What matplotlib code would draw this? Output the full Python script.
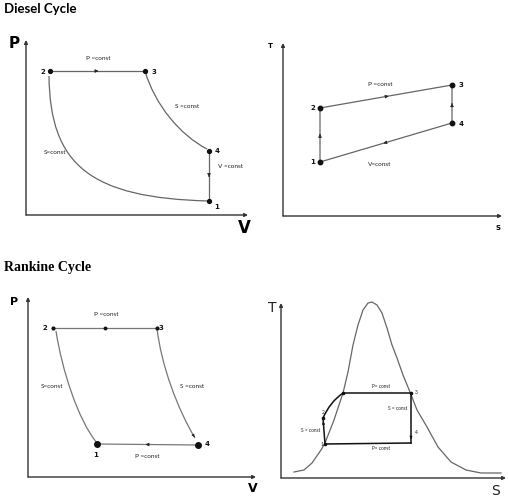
import matplotlib
matplotlib.use('Agg')
import matplotlib.pyplot as plt
from matplotlib.path import Path
from matplotlib.patches import PathPatch

# ---- diesel cycle, P-V (states 1..4) ----
dpv_v = [183, 24, 119, 183]
dpv_p = [14, 144, 144, 64]
dpv_curve21 = [(23, 139), (24, 50), (64, 17), (183, 14)]
dpv_curve34 = [(119, 144), (129, 110), (154, 80), (181, 66)]

# ---- diesel cycle, T-S ----
dts_s = [37, 37, 169, 169]
dts_t = [54, 108, 131, 93]

# ---- rankine cycle, P-V ----
rpv_v = [69, 25, 129, 170]
rpv_p = [33, 149, 149, 32]
rpv_curve21 = [(28, 146), (34, 107), (50, 57), (69, 34)]
rpv_curve34 = [(129, 149), (133, 112), (150, 67), (167, 39)]

# ---- rankine cycle, T-S (saturation dome + cycle) ----
dome_s = [13, 23, 31, 40, 44, 53, 62, 67, 72, 77, 82, 87, 91, 96, 101, 106,
          111, 116, 122, 129, 136, 146, 157, 170, 185, 200, 220]
dome_t = [6, 8, 15, 28, 35, 58, 85, 106, 133, 153, 168, 175, 176, 173, 165,
          150, 133, 120, 103, 86, 68, 51, 31, 16, 8, 5, 5]
rts_s = [44, 42, 62, 130, 130]   # 1, 2, sat. liquid, 3, 4
rts_t = [34, 60, 85, 85, 35]
rts_curve = [(42, 60), (49, 76), (62, 85)]

W, H = 508, 499
fig = plt.figure(figsize=(W / 100, H / 100), dpi=100)
fig.patch.set_facecolor('white')

small = dict(fontsize=4.6, family=['Lato', 'DejaVu Sans'], ha='center', va='center', color='#222')
num = dict(fontsize=5, fontweight='bold', ha='center', va='center', color='#111')


def make_axes(x0, y0, x1, ytop):
    ax = fig.add_axes([x0 / W, 1 - y0 / H, (x1 - x0) / W, (y0 - ytop) / H])
    ax.set_xlim(0, x1 - x0)
    ax.set_ylim(0, y0 - ytop)
    ax.axis('off')
    ap = dict(arrowstyle='-|>', color='#333', lw=1, mutation_scale=5, shrinkA=0, shrinkB=0)
    ax.annotate('', xy=(x1 - x0, 0), xytext=(0, 0), arrowprops=ap, annotation_clip=False)
    ax.annotate('', xy=(0, y0 - ytop), xytext=(0, 0), arrowprops=ap, annotation_clip=False)
    return ax


def mid_arrow(ax, p, q, color, frac=0.5, ms=5):
    x = p[0] + (q[0] - p[0]) * frac
    y = p[1] + (q[1] - p[1]) * frac
    dx = (q[0] - p[0]) * 0.02
    dy = (q[1] - p[1]) * 0.02
    ax.annotate('', xy=(x + dx, y + dy), xytext=(x, y),
                arrowprops=dict(arrowstyle='-|>', color=color, lw=0.5,
                                mutation_scale=ms, shrinkA=0, shrinkB=0))


def bezier(ax, pts, color, lw):
    codes = [Path.MOVETO] + [Path.CURVE4 if len(pts) == 4 else Path.CURVE3] * (len(pts) - 1)
    ax.add_patch(PathPatch(Path(pts, codes), fc='none', ec=color, lw=lw, clip_on=False))


# titles
fig.text(4 / W, 1 - 9 / H, 'Diesel Cycle', fontsize=9.5, fontweight='bold',
         family=['Lato', 'DejaVu Sans'], va='center', ha='left')
fig.text(4 / W, 1 - 267 / H, 'Rankine Cycle', fontsize=10, fontweight='bold',
         family=['Liberation Serif', 'DejaVu Serif'], va='center', ha='left')

# ---------------- Diesel P-V ----------------
c = '#666'
ax1 = make_axes(26, 215, 248, 40)
ax1.plot([dpv_v[1], dpv_v[2]], [dpv_p[1], dpv_p[2]], color=c, lw=0.9)
ax1.plot([dpv_v[3], dpv_v[0]], [dpv_p[3], dpv_p[0]], color=c, lw=0.9)
bezier(ax1, dpv_curve21, c, 0.9)
bezier(ax1, dpv_curve34, c, 0.9)
ax1.plot(dpv_v, dpv_p, 'o', color='#111', ms=2.8)
mid_arrow(ax1, (dpv_v[1], dpv_p[1]), (dpv_v[2], dpv_p[2]), '#222', 0.49)
mid_arrow(ax1, (dpv_v[3], dpv_p[3]), (dpv_v[0], dpv_p[0]), '#222', 0.5)
for lab, dx, dy, i in [('1', 8, -6, 0), ('2', -7, -1, 1), ('3', 9, -1, 2), ('4', 8, 0, 3)]:
    ax1.text(dpv_v[i] + dx, dpv_p[i] + dy, lab, **num)
ax1.text(72, 156, 'P =const', **small)
ax1.text(161, 108, 'S =const', **small)
ax1.text(29, 63, 'S=const', **small)
ax1.text(204, 48, 'V =const', **small)
ax1.text(-12, 172, 'P', fontsize=11, fontweight='bold', ha='center', va='center')
ax1.text(218, -13, 'V', fontsize=12, fontweight='bold', ha='center', va='center')

# ---------------- Diesel T-S ----------------
ax2 = make_axes(283, 216, 502, 43)
order = [0, 1, 2, 3, 0]
ax2.plot([dts_s[i] for i in order], [dts_t[i] for i in order], color=c, lw=0.9)
ax2.plot(dts_s, dts_t, 'o', color='#111', ms=3.2)
mid_arrow(ax2, (dts_s[1], dts_t[1]), (dts_s[2], dts_t[2]), '#222')
mid_arrow(ax2, (dts_s[3], dts_t[3]), (dts_s[0], dts_t[0]), '#222')
mid_arrow(ax2, (dts_s[0], dts_t[0]), (dts_s[1], dts_t[1]), '#222')
mid_arrow(ax2, (dts_s[3], dts_t[3]), (dts_s[2], dts_t[2]), '#222')
for lab, dx, dy, i in [('1', -7, 0, 0), ('2', -7, 0, 1), ('3', 9, 0, 2), ('4', 9, -1, 3)]:
    ax2.text(dts_s[i] + dx, dts_t[i] + dy, lab, **num)
ax2.text(97, 131, 'P =const', **small)
ax2.text(97, 51, 'V=const', **small)
ax2.text(-13, 170, 'T', fontsize=5, fontweight='bold', ha='center', va='center')
ax2.text(215, -12, 'S', fontsize=5, fontweight='bold', ha='center', va='center')

# ---------------- Rankine P-V ----------------
c3 = '#777'
ax3 = make_axes(28, 477, 256, 297)
ax3.plot([rpv_v[1], rpv_v[2]], [rpv_p[1], rpv_p[2]], color=c3, lw=0.9)
ax3.plot([rpv_v[3], rpv_v[0]], [rpv_p[3], rpv_p[0]], color=c3, lw=0.9)
bezier(ax3, rpv_curve21, c3, 0.9)
bezier(ax3, rpv_curve34, c3, 0.9)
ax3.plot(rpv_v[1:3], rpv_p[1:3], 'o', color='#111', ms=2)
ax3.plot([rpv_v[0], rpv_v[3]], [rpv_p[0], rpv_p[3]], 'o', color='#111', ms=4)
ax3.plot([(rpv_v[1] + rpv_v[2]) / 2], [rpv_p[1]], 'o', color='#111', ms=1.8)
mid_arrow(ax3, (rpv_v[3], rpv_p[3]), (rpv_v[0], rpv_p[0]), '#222', 0.5)
mid_arrow(ax3, rpv_curve34[2], rpv_curve34[3], '#222', 0.95, 4)
for lab, dx, dy, i in [('1', -1, -11, 0), ('2', -8, 0, 1), ('3', 4, 0, 2), ('4', 9, 1, 3)]:
    ax3.text(rpv_v[i] + dx, rpv_p[i] + dy, lab, **num)
ax3.text(78, 162, 'P =const', **small)
ax3.text(24, 90, 'S=const', **small)
ax3.text(164, 90, 'S =const', **small)
ax3.text(119, 21, 'P =const', **small)
ax3.text(-14, 175, 'P', fontsize=8, fontweight='bold', ha='center', va='center')
ax3.text(225, -11, 'V', fontsize=9, fontweight='bold', ha='center', va='center')

# ---------------- Rankine T-S ----------------
ax4 = make_axes(281, 478, 506, 303)
ax4.plot(dome_s, dome_t, color='#666', lw=0.9, clip_on=False, solid_joinstyle='round')
ax4.plot([rts_s[0], rts_s[1]], [rts_t[0], rts_t[1]], color='#111', lw=1.1)
bezier(ax4, rts_curve, '#111', 1.1)
ax4.plot(rts_s[2:5], rts_t[2:5], color='#111', lw=1.1)
ax4.plot([rts_s[4], rts_s[0]], [rts_t[4], rts_t[0]], color='#111', lw=1.1)
ax4.plot(rts_s[:3], rts_t[:3], 'o', color='#111', ms=1.6)
ax4.plot(rts_s[3], rts_t[3], 'o', color='#111', ms=1.6)
mid_arrow(ax4, (rts_s[0], rts_t[0]), (rts_s[1], rts_t[1]), '#111', 0.85, 4)
mid_arrow(ax4, (rts_s[3], rts_t[3]), (rts_s[4], rts_t[4]), '#111', 0.9, 4)
tiny = dict(fontsize=3.4, family=['Lato', 'DejaVu Sans'], ha='center', va='center', color='#222')
ax4.text(rts_s[0] - 3, rts_t[0], '1', **tiny)
ax4.text(rts_s[1], rts_t[1] + 5, '2', **tiny)
ax4.text(rts_s[3] + 5, rts_t[3] + 1, '3', **tiny)
ax4.text(rts_s[4] + 5, rts_t[4] + 10, '4', **tiny)
ax4.text(100, 92, 'P= const', **tiny)
ax4.text(117, 70, 'S = const', **tiny)
ax4.text(30, 47, 'S = const', **tiny)
ax4.text(100, 29, 'P= const', **tiny)
ax4.text(-9, 170, 'T', fontsize=10, ha='center', va='center', color='#222')
ax4.text(215, -13, 'S', fontsize=10, ha='center', va='center', color='#222')

fig.savefig('out.png', dpi=100)
